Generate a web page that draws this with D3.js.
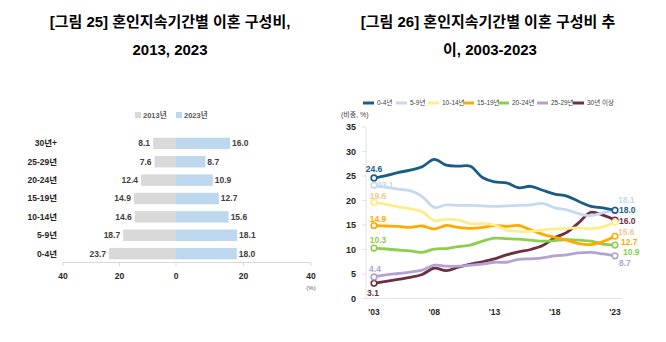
<!DOCTYPE html>
<html>
<head>
<meta charset="utf-8">
<script src="https://cdn.jsdelivr.net/npm/d3@7"></script>
<style>
  body { margin: 0; background: #fff; }
  svg { display: block; font-family: "Liberation Sans", Arial, "Noto Sans CJK KR", sans-serif; }
</style>
</head>
<body>
<svg id="chart" width="666" height="342"></svg>
<script>
// ---- left chart data ----
const durations = ["30년+", "25-29년", "20-24년", "15-19년", "10-14년", "5-9년", "0-4년"];
const share2013 = [8.1, 7.6, 12.4, 14.9, 14.6, 18.7, 23.7];
const share2023 = [16.0, 8.7, 10.9, 12.7, 15.6, 18.1, 18.0];
const barTicks = [0, 20, 40];

// ---- right chart data ----
const years = d3.range(2003, 2024);
const yearTicks = [2003, 2008, 2013, 2018, 2023];
const seriesNames = ["0-4년", "5-9년", "10-14년", "15-19년", "20-24년", "25-29년", "30년 이상"];
const y0_4   = [24.6, 25.1, 25.7, 26.2, 26.9, 28.4, 27.2, 27.0, 27.0, 24.7, 23.8, 23.6, 22.6, 22.9, 22.1, 21.3, 20.9, 19.8, 18.8, 18.5, 18.0];
const y5_9   = [23.1, 22.7, 22.3, 22.0, 20.8, 18.6, 19.1, 19.0, 19.0, 18.9, 18.8, 18.9, 19.0, 19.1, 19.4, 18.5, 18.1, 17.3, 16.9, 17.5, 18.1];
const y10_14 = [19.6, 19.2, 18.7, 18.3, 17.7, 15.9, 16.2, 16.0, 15.3, 15.3, 15.0, 14.0, 13.7, 13.7, 14.0, 14.2, 14.3, 14.4, 14.2, 14.6, 15.6];
const y15_19 = [14.9, 14.8, 14.7, 14.5, 14.8, 14.2, 14.9, 14.5, 14.3, 14.5, 14.9, 14.7, 14.9, 14.0, 13.1, 12.5, 11.9, 11.2, 11.0, 11.6, 12.7];
const y20_24 = [10.3, 10.1, 9.9, 9.7, 9.4, 10.1, 10.2, 10.6, 10.9, 11.7, 12.3, 12.2, 12.1, 11.9, 11.7, 11.8, 12.0, 11.9, 11.7, 11.1, 10.9];
const y25_29 = [4.4, 4.8, 5.1, 5.4, 5.8, 6.8, 6.6, 6.6, 6.8, 7.0, 7.4, 7.4, 8.0, 8.1, 8.3, 8.7, 8.9, 9.3, 9.4, 9.1, 8.7];
const y30up  = [3.1, 3.5, 3.9, 4.3, 4.9, 6.2, 5.7, 6.4, 7.0, 7.5, 8.1, 8.9, 9.5, 10.0, 10.8, 12.4, 13.5, 15.5, 17.6, 17.0, 16.0];
const lineTicks = [0, 5, 10, 15, 20, 25, 30, 35];

const svg = d3.select("#chart");

// ================= left chart =================
svg.append("text").attr("x", 170).attr("y", 27).attr("text-anchor", "middle")
    .style("font-size", "15px").style("font-weight", "bold")
    .text("[그림 25] 혼인지속기간별 이혼 구성비,");
svg.append("text").attr("x", 170).attr("y", 55).attr("text-anchor", "middle")
    .style("font-size", "15px").style("font-weight", "bold")
    .text("2013, 2023");

// two halves have their own scale, as in the source
const xLeft = d3.scaleLinear().domain([40, 0]).range([63, 176]);
const xRight = d3.scaleLinear().domain([0, 40]).range([176, 311]);
const yBand = d3.scaleBand().domain(durations).range([134, 263]).paddingInner(0.38).paddingOuter(0.2);

const left = svg.append("g");
const rows = durations.map((d, i) => ({cat: d, a: share2013[i], b: share2023[i]}));

left.selectAll("rect.old").data(rows).enter().append("rect")
    .attr("x", d => xLeft(d.a)).attr("width", d => xLeft(0) - xLeft(d.a))
    .attr("y", d => yBand(d.cat)).attr("height", yBand.bandwidth())
    .style("fill", "#d9d9d9");
left.selectAll("rect.new").data(rows).enter().append("rect")
    .attr("x", xRight(0)).attr("width", d => xRight(d.b) - xRight(0))
    .attr("y", d => yBand(d.cat)).attr("height", yBand.bandwidth())
    .style("fill", "#bdd7ee");

left.selectAll("text.va").data(rows).enter().append("text")
    .attr("x", d => xLeft(d.a) - 3).attr("y", d => yBand(d.cat) + yBand.bandwidth() / 2)
    .attr("dy", "0.35em").attr("text-anchor", "end")
    .style("font-size", "8.5px").style("font-weight", "bold").style("fill", "#404040")
    .text(d => d.a.toFixed(1));
left.selectAll("text.vb").data(rows).enter().append("text")
    .attr("x", d => xRight(d.b) + 2).attr("y", d => yBand(d.cat) + yBand.bandwidth() / 2)
    .attr("dy", "0.35em")
    .style("font-size", "8.5px").style("font-weight", "bold").style("fill", "#404040")
    .text(d => d.b.toFixed(1));

left.selectAll("text.cat").data(durations).enter().append("text")
    .attr("x", 57).attr("y", d => yBand(d) + yBand.bandwidth() / 2)
    .attr("dy", "0.35em").attr("text-anchor", "end")
    .style("font-size", "8.5px").style("font-weight", "bold").style("fill", "#262626")
    .text(d => d);

// bottom axis
left.append("line").attr("x1", xLeft(40)).attr("x2", xRight(40)).attr("y1", 262.5).attr("y2", 262.5)
    .style("stroke", "#d9d9d9");
const tickData = barTicks.slice(1).reverse().map(v => ({v, x: xLeft(v)}))
    .concat(barTicks.map(v => ({v, x: xRight(v)})));
left.selectAll("line.tk").data(tickData).enter().append("line")
    .attr("x1", d => d.x).attr("x2", d => d.x).attr("y1", 262.5).attr("y2", 266)
    .style("stroke", "#d9d9d9");
left.selectAll("text.tk").data(tickData).enter().append("text")
    .attr("x", d => d.x).attr("y", 279).attr("text-anchor", "middle")
    .style("font-size", "8.5px").style("font-weight", "bold").style("fill", "#262626")
    .text(d => d.v);
left.append("text").attr("x", 311).attr("y", 290).attr("text-anchor", "middle")
    .style("font-size", "6px").style("fill", "#595959").text("(%)");

// legend
const barLegend = [{name: "2013년", color: "#d9d9d9", x: 135}, {name: "2023년", color: "#bdd7ee", x: 176}];
barLegend.forEach(l => {
    left.append("rect").attr("x", l.x).attr("y", 112).attr("width", 6).attr("height", 6).style("fill", l.color);
    left.append("text").attr("x", l.x + 8).attr("y", 118)
        .style("font-size", "7.5px").style("font-weight", "bold").style("fill", "#595959").text(l.name);
});

// ================= right chart =================
svg.append("text").attr("x", 488).attr("y", 27).attr("text-anchor", "middle")
    .style("font-size", "15px").style("font-weight", "bold")
    .text("[그림 26] 혼인지속기간별 이혼 구성비 추");
svg.append("text").attr("x", 490).attr("y", 55).attr("text-anchor", "middle")
    .style("font-size", "15px").style("font-weight", "bold")
    .text("이, 2003-2023");

const x = d3.scaleLinear().domain([2003, 2023]).range([374, 615]);
const y = d3.scaleLinear().domain([0, 35]).range([298.5, 127]);

const right = svg.append("g");
right.append("line").attr("x1", 366).attr("x2", 366).attr("y1", y(35)).attr("y2", y(0)).style("stroke", "#e3e3e3");
right.append("line").attr("x1", 366).attr("x2", 622).attr("y1", y(0)).attr("y2", y(0)).style("stroke", "#e3e3e3");
right.selectAll("line.yt").data(lineTicks).enter().append("line")
    .attr("x1", 362).attr("x2", 366).attr("y1", d => y(d)).attr("y2", d => y(d)).style("stroke", "#e3e3e3");
right.selectAll("text.yt").data(lineTicks).enter().append("text")
    .attr("x", 356).attr("y", d => y(d)).attr("dy", "0.35em").attr("text-anchor", "end")
    .style("font-size", "9px").style("font-weight", "bold").style("fill", "#262626")
    .text(d => d);
right.selectAll("text.xt").data(yearTicks).enter().append("text")
    .attr("x", d => x(d)).attr("y", 315).attr("text-anchor", "middle")
    .style("font-size", "8.5px").style("font-weight", "bold").style("fill", "#262626")
    .text(d => "'" + String(d).slice(2));
right.append("text").attr("x", 341).attr("y", 117)
    .style("font-size", "7px").style("fill", "#404040").text("(비중, %)");

// s / e: label offset [dx, dy, anchor] for the first and last point
const series = [
    {name: seriesNames[0], vals: y0_4,   color: "#1b5c86", label: "#1b5c86", s: [0, -9, "middle"], e: [4, 0, "start"]},
    {name: seriesNames[1], vals: y5_9,   color: "#c6d9f0", label: "#c6d9f0", s: [3, 0, "start"], e: [3, -10, "start"]},
    {name: seriesNames[2], vals: y10_14, color: "#ffee88", label: "#f9c58d", s: [4, -6, "middle"], e: [3, 9.5, "start"]},
    {name: seriesNames[3], vals: y15_19, color: "#ffaa00", label: "#ffaa00", s: [4, -6, "middle"], e: [6, 5.5, "start"]},
    {name: seriesNames[4], vals: y20_24, color: "#8ccf4d", label: "#8ccf4d", s: [4, -8, "middle"], e: [8, 6.5, "start"]},
    {name: seriesNames[5], vals: y25_29, color: "#b3a2d3", label: "#b3a2d3", s: [1, -8, "middle"], e: [4, 7, "start"]},
    {name: seriesNames[6], vals: y30up,  color: "#6e2f41", label: "#6e2f41", s: [-1, 10, "middle"], e: [4, 0.5, "start"]}
];

const line = d3.line().x(d => x(d.year)).y(d => y(d.v)).curve(d3.curveCatmullRom.alpha(0.5));

// draw from the back so the first series sits on top
series.slice().reverse().forEach(s => {
    const pts = years.map((yr, i) => ({year: yr, v: s.vals[i]}));
    right.append("path").datum(pts).attr("d", line)
        .style("fill", "none").style("stroke", s.color).style("stroke-width", 2.8)
        .style("stroke-linejoin", "round").style("stroke-linecap", "round");
    [pts[0], pts[pts.length - 1]].forEach(p => {
        right.append("circle").attr("cx", x(p.year)).attr("cy", y(p.v)).attr("r", 2.8)
            .style("fill", "#fff").style("stroke", s.color).style("stroke-width", 1.6);
    });
    const a = pts[0], b = pts[pts.length - 1];
    right.append("text").attr("x", x(a.year) + s.s[0]).attr("y", y(a.v) + s.s[1]).attr("dy", "0.35em")
        .attr("text-anchor", s.s[2])
        .style("font-size", "8.5px").style("font-weight", "bold").style("fill", s.label)
        .text(a.v.toFixed(1));
    right.append("text").attr("x", x(b.year) + s.e[0]).attr("y", y(b.v) + s.e[1]).attr("dy", "0.35em")
        .attr("text-anchor", s.e[2])
        .style("font-size", "8.5px").style("font-weight", "bold").style("fill", s.label)
        .text(b.v.toFixed(1));
});

// legend
const legendX = [363, 396, 428, 463, 498, 537, 573];
series.forEach((s, i) => {
    right.append("line").attr("x1", legendX[i]).attr("x2", legendX[i] + 11).attr("y1", 103).attr("y2", 103)
        .style("stroke", s.color).style("stroke-width", 3);
    right.append("text").attr("x", legendX[i] + 14).attr("y", 103).attr("dy", "0.35em")
        .style("font-size", "6.5px").style("fill", "#404040").text(s.name);
});
</script>
</body>
</html>
